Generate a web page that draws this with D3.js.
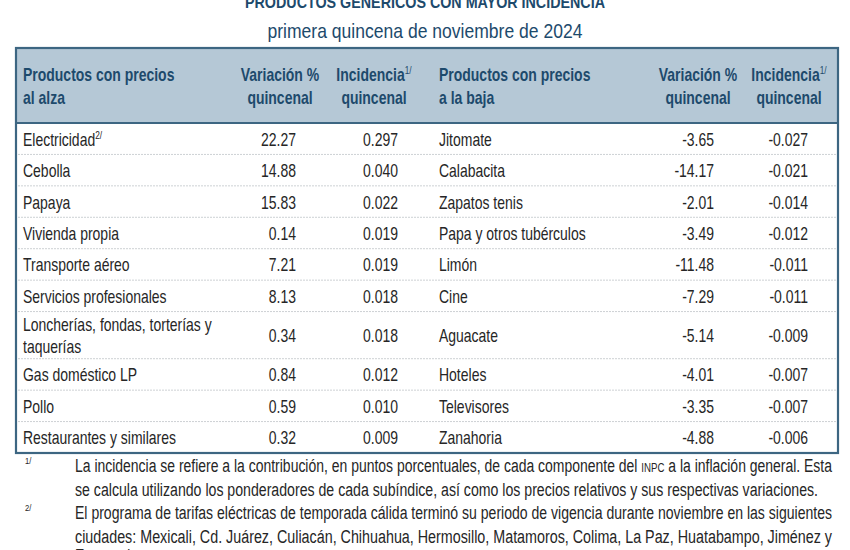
<!DOCTYPE html>
<html><head><meta charset="utf-8">
<script src="https://cdn.jsdelivr.net/npm/d3@7"></script>
<style>
html,body{margin:0;padding:0;background:#fff;}
svg{display:block;}
text{font-family:"Liberation Sans Narrow","Liberation Sans",Arial,sans-serif;}
</style></head>
<body>
<svg id="c" width="850" height="550"></svg>
<script>
const title = "PRODUCTOS GENÉRICOS CON MAYOR INCIDENCIA";
const subtitle = "primera quincena de noviembre de 2024";
const headerUp = ["Productos con precios", "al alza"];
const headerDown = ["Productos con precios", "a la baja"];
const headerVar = ["Variación %", "quincenal"];
const headerInc = ["Incidencia", "quincenal"];
const productsUp = [["Electricidad"], ["Cebolla"], ["Papaya"], ["Vivienda propia"], ["Transporte aéreo"], ["Servicios profesionales"], ["Loncherías, fondas, torterías y", "taquerías"], ["Gas doméstico LP"], ["Pollo"], ["Restaurantes y similares"]];
const noteUp = ["2/", "", "", "", "", "", "", "", "", ""];
const varUp = [22.27, 14.88, 15.83, 0.14, 7.21, 8.13, 0.34, 0.84, 0.59, 0.32];
const incUp = [0.297, 0.040, 0.022, 0.019, 0.019, 0.018, 0.018, 0.012, 0.010, 0.009];
const productsDown = ["Jitomate", "Calabacita", "Zapatos tenis", "Papa y otros tubérculos", "Limón", "Cine", "Aguacate", "Hoteles", "Televisores", "Zanahoria"];
const varDown = [-3.65, -14.17, -2.01, -3.49, -11.48, -7.29, -5.14, -4.01, -3.35, -4.88];
const incDown = [-0.027, -0.021, -0.014, -0.012, -0.011, -0.011, -0.009, -0.007, -0.007, -0.006];
const footMarks = ["1/", "2/"];
const footLines = [
  [["La incidencia se refiere a la contribución, en puntos porcentuales, de cada componente del ", "INPC", " a la inflación general. Esta"],
   ["se calcula utilizando los ponderadores de cada subíndice, así como los precios relativos y sus respectivas variaciones."]],
  [["El programa de tarifas eléctricas de temporada cálida terminó su periodo de vigencia durante noviembre en las siguientes"],
   ["ciudades: Mexicali, Cd. Juárez, Culiacán, Chihuahua, Hermosillo, Matamoros, Colima, La Paz, Huatabampo, Jiménez y"],
   ["Ensenada."]]
];

(function () {
const svg = d3.select("#c");
const navy = "#1d4a6c", border = "#3d6682", headBg = "#b5c8d6", body = "#262626";
const loc = d3.formatLocale({decimal: ".", thousands: ",", grouping: [3], currency: ["$", ""], minus: "-"});
const fmt2 = loc.format(".2f"), fmt3 = loc.format(".3f");

svg.append("text").attr("x", 425).attr("y", 8).attr("text-anchor", "middle")
  .attr("font-size", 17).attr("font-weight", "bold").attr("fill", navy).attr("data-w", 360).text(title);
svg.append("text").attr("x", 425).attr("y", 38).attr("text-anchor", "middle")
  .attr("font-size", 21).attr("fill", navy).attr("data-w", 315).text(subtitle);

const tLeft = 16, tRight = 838, tTop = 48, headBottom = 123, tBottom = 453;
const units = productsUp.map(p => p.length > 1 ? 1.5 : 1);
const cum = [0]; units.forEach((u, i) => cum.push(cum[i] + u));
const y = d3.scaleLinear().domain([0, cum[cum.length - 1]]).range([headBottom, tBottom]);

svg.append("rect").attr("x", tLeft).attr("y", tTop).attr("width", tRight - tLeft).attr("height", headBottom - tTop).attr("fill", headBg);

svg.append("g").selectAll("line").data(cum.slice(1, -1)).join("line")
  .attr("x1", tLeft + 2).attr("x2", tRight - 2).attr("y1", d => y(d)).attr("y2", d => y(d))
  .attr("stroke", "#cdd1d4").attr("stroke-width", 1).attr("stroke-dasharray", "2,1");

svg.append("line").attr("x1", tLeft).attr("x2", tRight).attr("y1", headBottom).attr("y2", headBottom)
  .attr("stroke", border).attr("stroke-width", 2);
svg.append("rect").attr("x", tLeft).attr("y", tTop).attr("width", tRight - tLeft).attr("height", tBottom - tTop)
  .attr("fill", "none").attr("stroke", border).attr("stroke-width", 2.2);

const hdr = svg.append("g").attr("font-weight", "bold").attr("font-size", 17.7).attr("fill", navy);
function hLines(lines, x, anchor, sup) {
  lines.forEach((l, i) => {
    const t = hdr.append("text").attr("data-k", 0.79).attr("x", x).attr("y", 81 + i * 23).attr("text-anchor", anchor);
    t.append("tspan").text(l);
    if (sup && i === 0) t.append("tspan").attr("font-size", 10.5).attr("dy", -7).attr("font-weight", "normal").text("1/");
  });
}
hLines(headerUp, 23, "start");
hLines(headerVar, 280, "middle");
hLines(headerInc, 374, "middle", true);
hLines(headerDown, 439, "start");
hLines(headerVar, 698, "middle");
hLines(headerInc, 789, "middle", true);

const K = 0.755;
const rows = svg.append("g").attr("font-size", 18.5).attr("fill", body);
productsUp.forEach((p, i) => {
  const yc = (y(cum[i]) + y(cum[i + 1])) / 2 + 7;
  p.forEach((l, j) => {
    const t = rows.append("text").attr("data-k", K).attr("x", 23).attr("y", yc + (j - (p.length - 1) / 2) * 22);
    t.append("tspan").text(l);
    if (noteUp[i] && j === 0) t.append("tspan").attr("font-size", 11).attr("dy", -7).text(noteUp[i]);
  });
  rows.append("text").attr("data-k", K).attr("x", 296).attr("y", yc).attr("text-anchor", "end").text(fmt2(varUp[i]));
  rows.append("text").attr("data-k", K).attr("x", 398).attr("y", yc).attr("text-anchor", "end").text(fmt3(incUp[i]));
  rows.append("text").attr("data-k", K).attr("x", 439).attr("y", yc).text(productsDown[i]);
  rows.append("text").attr("data-k", K).attr("x", 714).attr("y", yc).attr("text-anchor", "end").text(fmt2(varDown[i]));
  rows.append("text").attr("data-k", K).attr("x", 808).attr("y", yc).attr("text-anchor", "end").text(fmt3(incDown[i]));
});

const foot = svg.append("g").attr("font-size", 18).attr("fill", body);
const lineY = [[472, 495.5], [519, 542.5, 562]];
const widths = [757, 743, 757, 757, 0];
let k = 0;
footLines.forEach((lines, n) => {
  foot.append("text").attr("x", 25).attr("y", lineY[n][0] - 8).attr("font-size", 9.5).attr("data-k", 0.8).text(footMarks[n]);
  lines.forEach((segs, j) => {
    const t = foot.append("text").attr("x", 75).attr("y", lineY[n][j]);
    segs.forEach(s => {
      const ts = t.append("tspan").text(s);
      if (s === "INPC") ts.attr("font-size", 12.5);
    });
    if (widths[k]) t.attr("data-w", widths[k]); else t.attr("data-k", 0.78);
    k++;
  });
});

// condensed look: compress text horizontally
svg.selectAll("text[data-k]").each(function () {
  const w = this.getComputedTextLength();
  const f = +this.getAttribute("data-k");
  d3.select(this).attr("textLength", (w * f).toFixed(1)).attr("lengthAdjust", "spacingAndGlyphs");
});
svg.selectAll("text[data-w]").each(function () {
  d3.select(this).attr("textLength", this.getAttribute("data-w")).attr("lengthAdjust", "spacingAndGlyphs");
});
})();
</script>
</body></html>
